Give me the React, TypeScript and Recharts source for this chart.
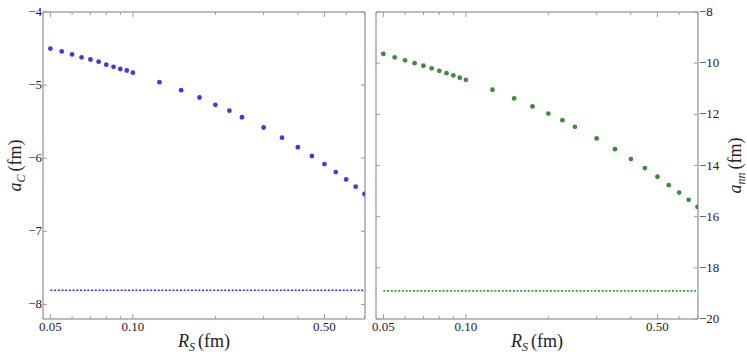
import React from "react";
import { ComposedChart, Scatter, XAxis, YAxis, ReferenceLine, Label } from "recharts";

// smearing radius R_S (fm)
const rs = [
  0.05, 0.055, 0.06, 0.065, 0.07, 0.075, 0.08, 0.085, 0.09, 0.095, 0.1,
  0.125, 0.15, 0.175, 0.2, 0.225, 0.25, 0.3, 0.35, 0.4, 0.45, 0.5, 0.55,
  0.6, 0.65, 0.7,
];
// a_C (fm), left panel
const aC = [
  -4.5, -4.54, -4.58, -4.62, -4.65, -4.68, -4.72, -4.75, -4.78, -4.8, -4.83,
  -4.96, -5.07, -5.17, -5.27, -5.35, -5.44, -5.58, -5.72, -5.85, -5.97, -6.08,
  -6.19, -6.29, -6.39, -6.49,
];
// a_nn (fm), right panel
const aNN = [
  -9.64, -9.77, -9.89, -10.0, -10.1, -10.2, -10.3, -10.39, -10.48, -10.57,
  -10.65, -11.04, -11.38, -11.69, -11.97, -12.23, -12.49, -12.94, -13.36,
  -13.75, -14.1, -14.44, -14.77, -15.06, -15.34, -15.62,
];
const aCExp = -7.8063;
const aNNExp = -18.9;

const xTicks = [0.05, 0.06, 0.07, 0.08, 0.09, 0.1, 0.2, 0.3, 0.4, 0.5, 0.6, 0.7];
const xLabels = [0.05, 0.1, 0.5];
const yTicksC = [-8, -7, -6, -5, -4];
const yTicksNN = [-20, -18, -16, -14, -12, -10, -8];

const serifFont = "Liberation Serif";
const frame = "#7a7a7a";
const tickCol = "#9c9c9c";
const txt = "#222";

const fmtY = (v: number) => (v < 0 ? "\u2212" : "") + Math.abs(v);

const bottomTick = (p: any) => {
  const v = p.payload.value;
  const major = xLabels.includes(v);
  return (
    <g>
      <line x1={p.x} x2={p.x} y1={p.y} y2={p.y - (major ? 5 : 3)} stroke={tickCol} />
      {major && (
        <text className="mt" x={p.x} y={p.y + 12} textAnchor="middle" fontSize={13} fontFamily={serifFont} fill={txt}>
          {v.toFixed(2)}
        </text>
      )}
    </g>
  );
};

const topTick = (p: any) => {
  const major = xLabels.includes(p.payload.value);
  return <line x1={p.x} x2={p.x} y1={p.y} y2={p.y + (major ? 5 : 3)} stroke={tickCol} />;
};

const leftTick = (labeled: boolean) => (p: any) => (
  <g>
    <line x1={p.x} x2={p.x + 4} y1={p.y} y2={p.y} stroke={tickCol} />
    {labeled && (
      <text className="mt" x={p.x - 1} y={p.y + 4} textAnchor="end" fontSize={13} fontFamily={serifFont} fill={txt}>
        {fmtY(p.payload.value)}
      </text>
    )}
  </g>
);

const rightTick = (labeled: boolean) => (p: any) => (
  <g>
    <line x1={p.x} x2={p.x - 4} y1={p.y} y2={p.y} stroke={tickCol} />
    {labeled && (
      <text className="mt" x={p.x + 1} y={p.y + 4} textAnchor="start" fontSize={13} fontFamily={serifFont} fill={txt}>
        {fmtY(p.payload.value)}
      </text>
    )}
  </g>
);

const xTitle = (props: any) => {
  const vb = props.viewBox || {};
  return (
    <text className="mt" x={vb.x + vb.width / 2} y={vb.y + 28} textAnchor="middle" fontFamily={serifFont} fontSize={18} fill={txt}>
      <tspan fontStyle="italic">R</tspan>
      <tspan fontStyle="italic" fontSize={12} dy={4}>S</tspan>
      <tspan dy={-4} dx={3}>(fm)</tspan>
    </text>
  );
};

const yTitle = (sub: string, dxOff: number) => (props: any) => {
  const vb = props.viewBox || {};
  const cx = vb.x + dxOff;
  const cy = vb.y + vb.height / 2;
  return (
    <text
      className="mt"
      x={cx}
      y={cy}
      transform={`rotate(-90, ${cx}, ${cy})`}
      textAnchor="middle"
      fontFamily={serifFont}
      fontSize={18}
      fill={txt}
    >
      <tspan fontStyle="italic">a</tspan>
      <tspan fontStyle="italic" fontSize={12} dy={4}>{sub}</tspan>
      <tspan dy={-4} dx={3}>(fm)</tspan>
    </text>
  );
};

type PanelProps = {
  values: number[];
  expValue: number;
  yDomain: [number, number];
  yTicks: number[];
  side: "left" | "right";
  color: string;
  dashColor: string;
  sub: string;
  width: number;
  margin: { top: number; right: number; bottom: number; left: number };
};

function Panel({ values, expValue, yDomain, yTicks, side, color, dashColor, sub, width, margin }: PanelProps) {
  const data = rs.map((r, i) => ({ r, a: values[i] }));
  const mainY = side === "left" ? "l" : "r";
  return (
    <ComposedChart width={width} height={359} data={data} margin={margin}>
      <XAxis
        xAxisId="b"
        dataKey="r"
        type="number"
        scale="log"
        domain={[0.047, 0.703]}
        allowDataOverflow
        ticks={xTicks}
        interval={0}
        height={1}
        tickSize={0}
        tickMargin={0}
        tickLine={false}
        axisLine={{ stroke: frame }}
        tick={bottomTick}
      >
        <Label content={xTitle} />
      </XAxis>
      <XAxis
        xAxisId="t"
        orientation="top"
        dataKey="r"
        type="number"
        scale="log"
        domain={[0.047, 0.703]}
        allowDataOverflow
        ticks={xTicks}
        interval={0}
        height={1}
        tickSize={0}
        tickMargin={0}
        tickLine={false}
        axisLine={{ stroke: frame }}
        tick={topTick}
      />
      <YAxis
        yAxisId="l"
        type="number"
        domain={yDomain}
        allowDataOverflow
        ticks={yTicks}
        interval={0}
        width={1}
        tickSize={0}
        tickMargin={0}
        tickLine={false}
        axisLine={{ stroke: frame }}
        tick={leftTick(side === "left")}
      >
        {side === "left" && <Label content={yTitle(sub, -21)} />}
      </YAxis>
      <YAxis
        yAxisId="r"
        orientation="right"
        type="number"
        domain={yDomain}
        allowDataOverflow
        ticks={yTicks}
        interval={0}
        width={1}
        tickSize={0}
        tickMargin={0}
        tickLine={false}
        axisLine={{ stroke: frame }}
        tick={rightTick(side === "right")}
      >
        {side === "right" && <Label content={yTitle(sub, 43)} />}
      </YAxis>
      <ReferenceLine
        xAxisId="b"
        yAxisId={mainY}
        segment={[
          { x: rs[0], y: expValue },
          { x: rs[rs.length - 1], y: expValue },
        ]}
        stroke={dashColor}
        strokeWidth={1.6}
        strokeDasharray="2 1.7"
      />
      <Scatter
        xAxisId="b"
        yAxisId={mainY}
        dataKey="a"
        isAnimationActive={false}
        shape={(p: any) => <circle cx={p.cx} cy={p.cy} r={2.4} fill={color} />}
      />
    </ComposedChart>
  );
}

export default function App() {
  return (
    <div style={{ position: "absolute", left: 0, top: 0, width: 747, height: 359, background: "#fff", display: "flex" }}>
      <style>{`.mt, .mt tspan { font-family: "Liberation Serif", serif !important; }`}</style>
      <Panel
        values={aC}
        expValue={aCExp}
        yDomain={[-8.2, -4]}
        yTicks={yTicksC}
        side="left"
        color="#3c3ce2"
        dashColor="#2e2ef5"
        sub="C"
        width={372}
        margin={{ top: 11, right: 6, bottom: 39, left: 42 }}
      />
      <Panel
        values={aNN}
        expValue={aNNExp}
        yDomain={[-20, -8]}
        yTicks={yTicksNN}
        side="right"
        color="#3d8c3d"
        dashColor="#3a9a3a"
        sub="nn"
        width={375}
        margin={{ top: 11, right: 48, bottom: 39, left: 3 }}
      />
    </div>
  );
}
